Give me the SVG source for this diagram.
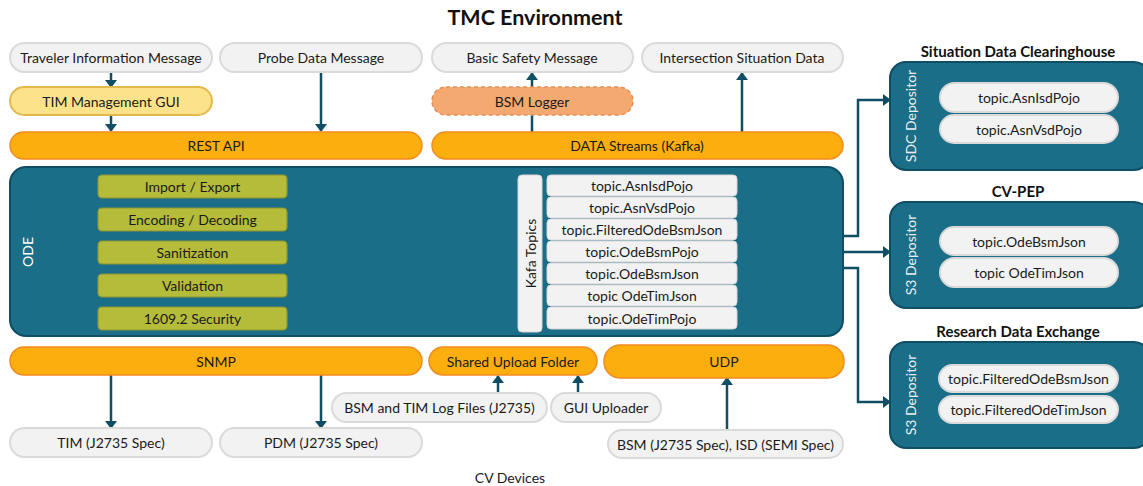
<svg xmlns="http://www.w3.org/2000/svg" width="1143" height="486" viewBox="0 0 1143 486">
  <defs>
    <marker id="arrow" viewBox="0 0 8 12" markerWidth="8" markerHeight="12" refX="7" refY="6" orient="auto" markerUnits="userSpaceOnUse">
      <path d="M0,0 L8,6 L0,12 z" fill="#0F4E63"/>
    </marker>
    <style>
      text { font-family: Lato, "Open Sans", "Liberation Sans", sans-serif; fill: #1a1a1a; }
      .lbl { font-size: 14px; text-anchor: middle; dominant-baseline: central; }
      .sm { font-size: 14px; text-anchor: middle; dominant-baseline: central; }
      .head { font-weight: bold; font-size: 15px; text-anchor: middle; fill: #111; }
      .wht { fill: #ffffff; font-size: 14px; text-anchor: middle; dominant-baseline: central; }
      .gray { fill: #F2F2F2; stroke: #DADADA; stroke-width: 2; }
      .orange { fill: #FCAE0F; stroke: #F28B20; stroke-width: 1.5; }
      .gui { fill: #FCE38B; stroke: #E4B94C; stroke-width: 2; }
      .logger { fill: #F4A970; stroke: #E68E56; stroke-width: 1.5; stroke-dasharray: 4 3; }
      .teal { fill: #1A6E87; stroke: #0F4E63; stroke-width: 2; }
      .green { fill: #B4BC3A; stroke: #8E9430; stroke-width: 1.2; }
      .topic { fill: #F2F2F2; stroke: #D6D6D6; stroke-width: 1; }
      .conn { fill: none; stroke: #0F4E63; stroke-width: 2.5; marker-end: url(#arrow); }
    </style>
  </defs>

  <rect width="1143" height="486" fill="#ffffff"/>

  <text x="535" y="25" style="font-size:21.5px;font-weight:bold;text-anchor:middle;fill:#111">TMC Environment</text>

  <!-- connectors -->
  <g id="connectors">
    <line class="conn" x1="111" y1="73" x2="111" y2="87"/>
    <line class="conn" x1="111" y1="115" x2="111" y2="131"/>
    <line class="conn" x1="321" y1="73" x2="321" y2="131"/>
    <line class="conn" x1="532" y1="132" x2="532" y2="73"/>
    <line class="conn" x1="742" y1="132" x2="742" y2="73"/>
    <polyline class="conn" points="843,236 858,236 858,100 890,100"/>
    <line class="conn" x1="843" y1="252" x2="890" y2="252"/>
    <polyline class="conn" points="843,268 858,268 858,402 890,402"/>
    <line class="conn" x1="111" y1="375" x2="111" y2="428"/>
    <line class="conn" x1="321" y1="375" x2="321" y2="428"/>
    <line class="conn" x1="498" y1="393" x2="498" y2="376"/>
    <line class="conn" x1="578" y1="393" x2="578" y2="376"/>
    <line class="conn" x1="727" y1="430" x2="727" y2="378"/>
  </g>

  <!-- top message row -->
  <g id="traveler-info">
    <rect class="gray" x="10" y="43" width="202" height="29" rx="14.5"/>
    <text class="lbl" x="111" y="57.5">Traveler Information Message</text>
  </g>
  <g id="probe-data">
    <rect class="gray" x="220" y="43" width="202" height="29" rx="14.5"/>
    <text class="lbl" x="321" y="57.5">Probe Data Message</text>
  </g>
  <g id="basic-safety">
    <rect class="gray" x="432" y="43" width="201" height="29" rx="14.5"/>
    <text class="lbl" x="532" y="57.5">Basic Safety Message</text>
  </g>
  <g id="intersection-situation">
    <rect class="gray" x="642" y="43" width="201" height="29" rx="14.5"/>
    <text class="lbl" x="742" y="57.5">Intersection Situation Data</text>
  </g>

  <g id="tim-gui">
    <rect class="gui" x="10" y="87" width="202" height="28" rx="14"/>
    <text class="lbl" x="111" y="101">TIM Management GUI</text>
  </g>
  <g id="bsm-logger">
    <rect class="logger" x="432" y="87" width="201" height="28" rx="14"/>
    <text class="lbl" x="532" y="101">BSM Logger</text>
  </g>

  <g id="rest-api">
    <rect class="orange" x="10" y="132" width="412" height="27" rx="13.5"/>
    <text class="lbl" x="216" y="145.5">REST API</text>
  </g>
  <g id="data-streams">
    <rect class="orange" x="432" y="132" width="411" height="27" rx="13.5"/>
    <text class="lbl" x="637" y="145.5">DATA Streams (Kafka)</text>
  </g>

  <!-- ODE core -->
  <g id="ode">
    <rect class="teal" x="10" y="167" width="833" height="169" rx="16"/>
    <text class="wht" transform="translate(27 252) rotate(-90)">ODE</text>
    <rect class="green" x="98" y="175" width="189" height="23" rx="4"/>
    <text class="lbl" x="192.5" y="186.5">Import / Export</text>
    <rect class="green" x="98" y="208" width="189" height="23" rx="4"/>
    <text class="lbl" x="192.5" y="219.5">Encoding / Decoding</text>
    <rect class="green" x="98" y="241" width="189" height="23" rx="4"/>
    <text class="lbl" x="192.5" y="252.5">Sanitization</text>
    <rect class="green" x="98" y="274" width="189" height="23" rx="4"/>
    <text class="lbl" x="192.5" y="285.5">Validation</text>
    <rect class="green" x="98" y="307" width="189" height="23" rx="4"/>
    <text class="lbl" x="192.5" y="318.5">1609.2 Security</text>
  </g>

  <g id="kafka-topics">
    <rect x="518" y="175" width="24" height="157" rx="4" fill="#F2F2F2" stroke="#D6D6D6"/>
    <text class="sm" transform="translate(530 253.5) rotate(-90)">Kafa Topics</text>
    <rect class="topic" x="547" y="175" width="190" height="21" rx="4"/>
    <text class="sm" x="642" y="185.5">topic.AsnIsdPojo</text>
    <rect class="topic" x="547" y="197" width="190" height="21" rx="4"/>
    <text class="sm" x="642" y="207.5">topic.AsnVsdPojo</text>
    <rect class="topic" x="547" y="219" width="190" height="21" rx="4"/>
    <text class="sm" x="642" y="229.5">topic.FilteredOdeBsmJson</text>
    <rect class="topic" x="547" y="241" width="190" height="21" rx="4"/>
    <text class="sm" x="642" y="251.5">topic.OdeBsmPojo</text>
    <rect class="topic" x="547" y="263" width="190" height="21" rx="4"/>
    <text class="sm" x="642" y="273.5">topic.OdeBsmJson</text>
    <rect class="topic" x="547" y="285" width="190" height="21" rx="4"/>
    <text class="sm" x="642" y="295.5">topic OdeTimJson</text>
    <rect class="topic" x="547" y="307" width="190" height="22" rx="4"/>
    <text class="sm" x="642" y="318">topic.OdeTimPojo</text>
  </g>

  <!-- bottom interfaces -->
  <g id="snmp">
    <rect class="orange" x="10" y="347" width="412" height="28" rx="14"/>
    <text class="lbl" x="216" y="361">SNMP</text>
  </g>
  <g id="shared-upload">
    <rect class="orange" x="429" y="347" width="168" height="28" rx="14"/>
    <text class="lbl" x="513" y="361">Shared Upload Folder</text>
  </g>
  <g id="udp">
    <rect class="orange" x="604" y="345" width="240" height="33" rx="16"/>
    <text class="lbl" x="724" y="361.5">UDP</text>
  </g>

  <g id="log-files">
    <rect class="gray" x="332" y="393" width="215" height="29" rx="14.5"/>
    <text class="lbl" x="439.5" y="407.5">BSM and TIM Log Files (J2735)</text>
  </g>
  <g id="gui-uploader">
    <rect class="gray" x="551" y="393" width="110" height="29" rx="14.5"/>
    <text class="lbl" x="606" y="407.5">GUI Uploader</text>
  </g>

  <g id="tim-spec">
    <rect class="gray" x="10" y="428" width="202" height="29" rx="14.5"/>
    <text class="lbl" x="111" y="442.5">TIM (J2735 Spec)</text>
  </g>
  <g id="pdm-spec">
    <rect class="gray" x="220" y="428" width="202" height="29" rx="14.5"/>
    <text class="lbl" x="321" y="442.5">PDM (J2735 Spec)</text>
  </g>
  <g id="bsm-isd-spec">
    <rect class="gray" x="608" y="430" width="235" height="28" rx="14"/>
    <text class="lbl" x="725.5" y="444">BSM (J2735 Spec), ISD (SEMI Spec)</text>
  </g>

  <text class="lbl" x="510" y="477">CV Devices</text>

  <!-- external consumers -->
  <g id="sdc">
    <text class="head" x="1018" y="57">Situation Data Clearinghouse</text>
    <rect class="teal" x="890" y="62" width="260" height="108" rx="16"/>
    <text class="wht" transform="translate(910 116) rotate(-90)" style="fill:#E8EEF0">SDC Depositor</text>
    <rect class="gray" x="940" y="83" width="178" height="29" rx="14.5"/>
    <text class="lbl" x="1029" y="97.5">topic.AsnIsdPojo</text>
    <rect class="gray" x="940" y="115" width="178" height="28" rx="14"/>
    <text class="lbl" x="1029" y="129">topic.AsnVsdPojo</text>
  </g>

  <g id="cv-pep">
    <text class="head" x="1018" y="197">CV-PEP</text>
    <rect class="teal" x="890" y="202" width="260" height="106" rx="16"/>
    <text class="wht" transform="translate(910 255) rotate(-90)" style="fill:#E8EEF0">S3 Depositor</text>
    <rect class="gray" x="940" y="227" width="178" height="28" rx="14"/>
    <text class="lbl" x="1029" y="241">topic.OdeBsmJson</text>
    <rect class="gray" x="940" y="258" width="178" height="29" rx="14.5"/>
    <text class="lbl" x="1029" y="272.5">topic OdeTimJson</text>
  </g>

  <g id="rde">
    <text class="head" x="1018" y="337">Research Data Exchange</text>
    <rect class="teal" x="890" y="342" width="260" height="106" rx="16"/>
    <text class="wht" transform="translate(910 395) rotate(-90)" style="fill:#E8EEF0">S3 Depositor</text>
    <rect class="gray" x="939" y="365" width="179" height="27" rx="13.5"/>
    <text class="lbl" x="1028.5" y="378.5">topic.FilteredOdeBsmJson</text>
    <rect class="gray" x="939" y="396" width="179" height="27" rx="13.5"/>
    <text class="lbl" x="1028.5" y="409.5">topic.FilteredOdeTimJson</text>
  </g>
</svg>
